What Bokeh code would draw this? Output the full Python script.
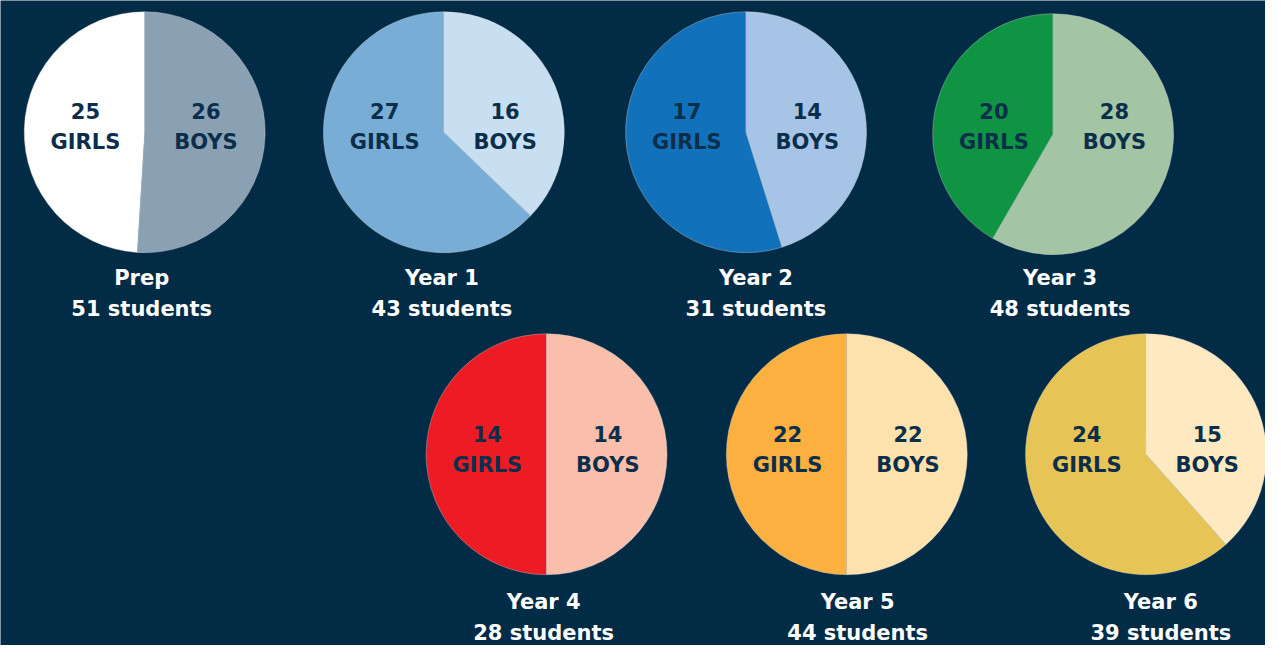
import math
from bokeh.plotting import figure
from bokeh.models import ColumnDataSource, Range1d
from bokeh.core.properties import value
from bokeh.embed import file_html
from bokeh.resources import INLINE

# ---- data ----
grades = ["Prep", "Year 1", "Year 2", "Year 3", "Year 4", "Year 5", "Year 6"]
girls = [25, 27, 17, 20, 14, 22, 24]
boys = [26, 16, 14, 28, 14, 22, 15]
girl_colors = ["#ffffff", "#78aed5", "#1172bb", "#0f9444", "#ed1c24", "#fbb040", "#e6c455"]
boy_colors = ["#8aa1b4", "#c8dff2", "#a6c4e5", "#a4c5a4", "#f9bfaa", "#fde2ae", "#fee9c0"]

# ---- layout (reference-pixel coordinates, 1281 x 661 canvas) ----
W, H = 1265, 645
BG = "#022b45"
TEXT_DARK = "#0b2e4a"
cx_px = [146, 449, 755, 1066, 553, 857, 1160]
cy_px = [135, 135, 135, 137, 465, 465, 465]
row_y = [134, 134, 134, 134, 465, 465, 465]
cap_y = [284, 284, 284, 284, 616, 616, 616]
label_dx = [-3, -2, 10, 7, -3, 11, 15]
R = 122

def Y(py):
    return 661 - py

p = figure(width=W, height=H, output_backend="svg", toolbar_location=None,
           x_range=Range1d(0, 1281), y_range=Range1d(0, 661),
           min_border=0, background_fill_color=BG, border_fill_color=BG,
           outline_line_color=None)
p.axis.visible = False
p.grid.visible = False

xs, ys, starts, ends, cols = [], [], [], [], []
for i in range(len(grades)):
    tot = girls[i] + boys[i]
    top = math.pi / 2
    g_ang = girls[i] / tot * 2 * math.pi
    b_ang = boys[i] / tot * 2 * math.pi
    # girls: counter-clockwise from 12 o'clock
    xs.append(cx_px[i]); ys.append(Y(cy_px[i]))
    starts.append(top); ends.append(top + g_ang); cols.append(girl_colors[i])
    # boys: clockwise from 12 o'clock
    xs.append(cx_px[i]); ys.append(Y(cy_px[i]))
    starts.append(top - b_ang); ends.append(top); cols.append(boy_colors[i])

src = ColumnDataSource(dict(x=xs, y=ys, start=starts, end=ends, color=cols))
p.wedge(x="x", y="y", radius=R, start_angle="start", end_angle="end",
        fill_color="color", line_color="#d8d8d8", line_width=0.6,
        line_alpha=0.6, source=src)

font = value("DejaVu Sans")
# inner labels
tx, ty, tt = [], [], []
for i in range(len(grades)):
    gx, bx = cx_px[i] - 60, cx_px[i] + 62
    tx += [gx, gx, bx, bx]
    ty += [Y(row_y[i] - 21), Y(row_y[i] + 11), Y(row_y[i] - 21), Y(row_y[i] + 11)]
    tt += [str(girls[i]), "GIRLS", str(boys[i]), "BOYS"]
p.text(x=tx, y=ty, text=tt, text_font=font, text_font_style="bold",
       text_font_size="21px", text_color=TEXT_DARK, text_align="center",
       text_baseline="middle")

# captions
lx, ly, lt = [], [], []
for i in range(len(grades)):
    tot = girls[i] + boys[i]
    x = cx_px[i] + label_dx[i]
    lx += [x, x]
    ly += [Y(cap_y[i]), Y(cap_y[i] + 32)]
    lt += [grades[i], f"{tot} students"]
p.text(x=lx, y=ly, text=lt, text_font=font, text_font_style="bold",
       text_font_size="21px", text_color="#ffffff", text_align="center",
       text_baseline="middle")

html = file_html(p, INLINE)
html = html.replace("<body>", f'<body style="background:{BG}">', 1)
open("out.html", "w").write(html)
